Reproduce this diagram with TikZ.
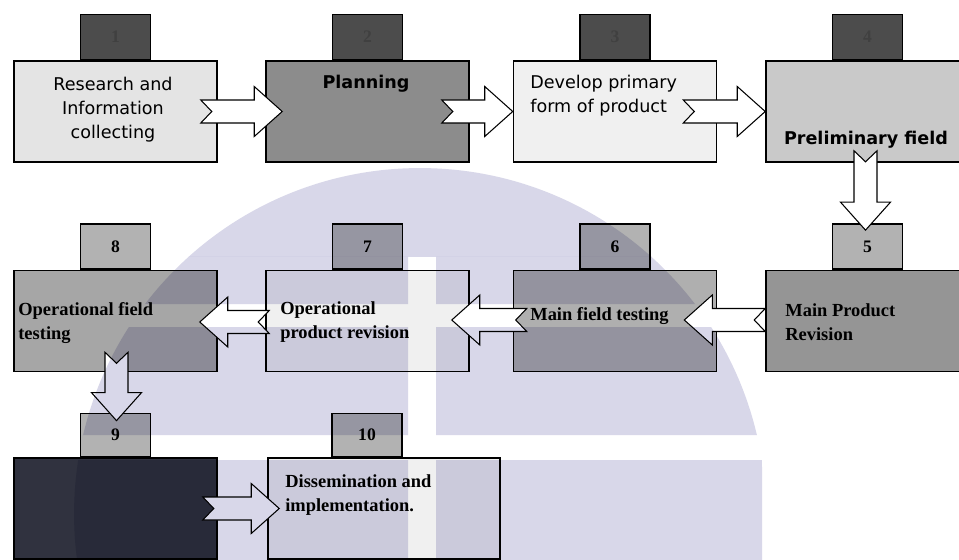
\documentclass[tikz,border=0pt]{standalone}
\usepackage{fontspec}
\setmainfont{Liberation Serif}
\newfontfamily\stepsans{DejaVu Sans}
\usepackage{tikz}
\usetikzlibrary{positioning, calc}
\definecolor{tabdark}{HTML}{4C4C4C}
\definecolor{tabgray}{HTML}{B2B2B2}
\definecolor{boxlight}{HTML}{E4E4E4}
\definecolor{boxwhite}{HTML}{F0F0F0}
\definecolor{boxmid}{HTML}{C9C9C9}
\definecolor{boxgray}{HTML}{A6A6A6}
\definecolor{boxdark}{HTML}{8C8C8C}
\definecolor{boxnavy}{HTML}{30323F}
\definecolor{wmark}{HTML}{D8D7E9}

\begin{document}
\begin{tikzpicture}[x=0.02cm, y=-0.02cm,
  box/.style={draw, line width=0.9pt, minimum width=4.06cm, minimum height=2.02cm, inner sep=0pt},
  tab/.style={draw, line width=0.9pt, minimum width=1.4cm, minimum height=0.9cm, inner sep=0pt,
    font=\bfseries\fontsize{10}{12}\selectfont},
  sanstxt/.style={font=\stepsans\fontsize{10}{13.6}\selectfont, inner sep=0pt, align=left},
  sansbold/.style={font=\stepsans\bfseries\fontsize{10}{13.6}\selectfont, inner sep=0pt},
  serftxt/.style={font=\bfseries\fontsize{10.5}{13.6}\selectfont, inner sep=0pt, align=left},
  blockarrow/.style={draw, fill=white, line width=0.6pt, line join=miter,
    to path={let \p1=(\tikztostart), \p2=(\tikztotarget), \p3=($(\p2)!0.56cm!(\p1)$) in
      ($(\p1)!0.23cm!90:(\p2)$) -- ($(\p3)!0.23cm!90:(\p2)$) -- ($(\p3)!0.5cm!90:(\p2)$)
      -- (\p2) -- ($(\p3)!0.5cm!-90:(\p2)$) -- ($(\p3)!0.23cm!-90:(\p2)$)
      -- ($(\p1)!0.23cm!-90:(\p2)$) -- ($(\p1)!0.22cm!(\p2)$) -- cycle}}
]
  \clip (0,0) rectangle (959,560);
  \fill[white] (0,0) rectangle (959,560);

  % Row 1: steps 1 to 4
  \node[box, fill=boxlight] (b1) at (115.5,111.5) {};
  \node[box, fill=boxdark]  (b2) at (367.5,111.5) {};
  \node[box, fill=boxwhite] (b3) at (615,111.5) {};
  \node[box, fill=boxmid]   (b4) at (867.5,111.5) {};
  \foreach \n in {1,...,4}
    \node[tab, fill=tabdark, text=black!75, above=0pt of b\n] (t\n) {\n};

  % Row 2: steps 5 to 8 (right to left)
  \node[box, fill=boxgray!90!black] (b5) at (867.5,321) {};
  \node[box, fill=boxgray!90]       (b6) at (615,321) {};
  \node[box, fill=boxwhite]         (b7) at (367.5,321) {};
  \node[box, fill=boxgray]          (b8) at (115.5,321) {};
  \foreach \n in {5,...,8}
    \node[tab, fill=tabgray, above=0pt of b\n] (t\n) {\n};

  % Row 3: steps 9 and 10
  \node[box, fill=boxnavy] (b9) at (115.5,508.5) {};
  \node[box, fill=boxwhite, minimum width=4.64cm] (b10) at (384,508.5) {};
  \node[tab, fill=tabgray, minimum height=0.86cm, above=0pt of b9] (t9) {9};
  \node[tab, fill=tabgray, minimum height=0.86cm, above=0pt of b10, xshift=-0.34cm] (t10) {10};

  % Step texts
  \node[sanstxt, align=center] (l1) at (113,110) {Research and\\Information\\collecting};
  \node[sansbold] (l2) at (366,84) {Planning};
  \node[sanstxt, anchor=west] (l3) at (530,96) {Develop primary\\form of product};
  \node[sansbold] (l4) at (866,140) {Preliminary field};
  \node[serftxt, anchor=west] (l5) at (785,322) {Main Product\\Revision};
  \node[serftxt, anchor=west] (l6) at (530,316) {Main field testing};
  \node[serftxt, anchor=west] (l7) at (280,322) {Operational\\product revision};
  \node[serftxt, anchor=west] (l8) at (18,323) {Operational field\\testing};
  \node[serftxt, anchor=west] (l10) at (285,495) {Dissemination and\\implementation.};

  % Block arrows
  \draw[blockarrow] ($(b1.east)+(-17,0)$) to ($(b2.west)+(17,0)$);
  \draw[blockarrow] ($(b2.east)+(-28,0)$) to (b3.west);
  \draw[blockarrow] ($(b3.east)+(-34,0)$) to (b4.west);
  \draw[blockarrow] ($(b4.south)+(-2,-12)$) to ($(t5.north)+(-2,7)$);
  \draw[blockarrow] ($(b5.west)+(0,-1)$) to ($(b6.east)+(-33,-1)$);
  \draw[blockarrow] ($(b6.west)+(14,-1)$) to ($(b7.east)+(-18,-1)$);
  \draw[blockarrow] ($(b7.west)+(4,1)$) to ($(b8.east)+(-18,1)$);
  \draw[blockarrow] ($(b8.south)+(1,-20)$) to ($(t9.north)+(1,8)$);
  \draw[blockarrow] ($(b9.east)+(-15,0)$) to ($(b10.west)+(12,0)$);

  % Watermark
  \begin{scope}[blend mode=multiply]
    \clip (420,514) circle (6.92cm);
    \fill[wmark] (0,150) rectangle (959,257);
    \fill[wmark] (0,257) rectangle (408,304) (436,257) rectangle (959,304);
    \fill[wmark] (0,327) rectangle (408,435) (436,327) rectangle (959,435);
    \fill[wmark] (0,460) rectangle (408,560) (436,460) rectangle (762,560);
  \end{scope}
\end{tikzpicture}
\end{document}
